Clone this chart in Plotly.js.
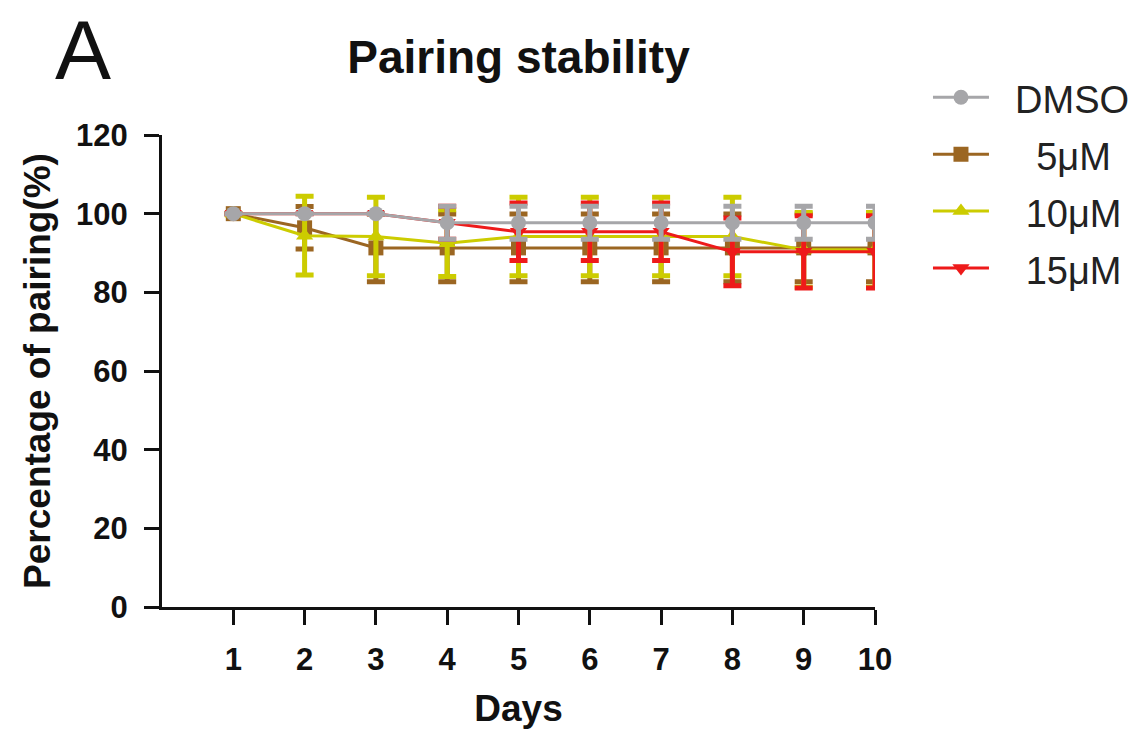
<!DOCTYPE html>
<html>
<head>
<meta charset="utf-8">
<script src="https://cdn.plot.ly/plotly-3.0.1.min.js"></script>
<style>html,body{margin:0;padding:0;background:#fff;}#chart{width:1139px;height:732px;}</style>
</head>
<body>
<div id="chart"></div>
<script>
const days = [1, 2, 3, 4, 5, 6, 7, 8, 9, 10];
const xTickLabels = ['1', '2', '3', '4', '5', '6', '7', '8', '9', '10'];
const yTickValues = [0, 20, 40, 60, 80, 100, 120];
const seriesNames = ['DMSO', '5μM', '10μM', '15μM'];

const dmso = [100, 100, 100, 97.7, 97.7, 97.7, 97.7, 97.7, 97.7, 97.7];
const dmsoErr = [0, 0, 0, 4.2, 4.2, 4.2, 4.2, 4.2, 4.2, 4.2];

const uM5 = [100, 96.4, 91.3, 91.3, 91.3, 91.3, 91.3, 91.3, 91.3, 91.3];
const uM5Err = [0, 5.4, 8.6, 8.6, 8.6, 8.6, 8.6, 8.6, 8.6, 8.6];

const uM10 = [100, 94.4, 94.2, 92.5, 94.2, 94.2, 94.2, 94.2, 90.8, 90.8];
const uM10Err = [0, 10, 10, 8.5, 10, 10, 10, 10, 9.5, 9.5];

const uM15 = [100, 100, 100, 97.7, 95.4, 95.4, 95.4, 90.3, 90.3, 90.3];
const uM15Err = [0, 0, 0, 4.2, 7.3, 7.3, 7.3, 8.6, 9.2, 9.2];

const FONT = 'Liberation Sans, Arial, Helvetica, sans-serif';
const NB = '\u00a0';

function legendLabel(name, pad) {
  return '<span style="font-size:38px">' + NB.repeat(pad) + name + '</span>';
}

function series(name, pad, y, err, color, symbol, rank) {
  return {
    type: 'scatter', mode: 'lines+markers', name: legendLabel(name, pad), x: days, y: y,
    legendrank: rank,
    line: {color: color, width: 3},
    marker: {color: color, symbol: symbol, size: 15, line: {width: 0}},
    error_y: {type: 'data', array: err, visible: true, color: color, thickness: 5, width: 9}
  };
}

const traces = [
  series(seriesNames[1], 4, uM5, uM5Err, '#9b6622', 'square', 2),
  series(seriesNames[2], 3, uM10, uM10Err, '#cccc00', 'triangle-up', 3),
  series(seriesNames[3], 3, uM15, uM15Err, '#ee1a1a', 'triangle-down', 4),
  series(seriesNames[0], 2, dmso, dmsoErr, '#a6a6a9', 'circle', 1)
];

const layout = {
  width: 1139, height: 732,
  margin: {l: 162, r: 264, t: 135, b: 125, autoexpand: false},
  paper_bgcolor: '#ffffff', plot_bgcolor: '#ffffff',
  font: {family: FONT, color: '#111111'},
  showlegend: true,
  title: {text: 'Pairing stability', x: 0.5, xref: 'paper', xanchor: 'center',
          y: 0.922, yref: 'container', yanchor: 'middle',
          font: {family: FONT, size: 46, weight: 700, color: '#111111'}},
  xaxis: {
    range: [0, 10], tickmode: 'array', tickvals: days, ticktext: xTickLabels,
    showgrid: false, zeroline: false, showline: true, linecolor: '#111', linewidth: 3,
    ticks: 'outside', ticklen: 15, tickwidth: 3, tickcolor: '#111', ticklabelstandoff: 8,
    tickfont: {family: FONT, size: 31, weight: 700, color: '#111'},
    title: {text: 'Days', standoff: 19, font: {family: FONT, size: 37, weight: 700, color: '#111'}},
    fixedrange: true
  },
  yaxis: {
    range: [0, 120], tickmode: 'array', tickvals: yTickValues,
    showgrid: false, zeroline: false, showline: true, linecolor: '#111', linewidth: 3,
    ticks: 'outside', ticklen: 15, tickwidth: 3, tickcolor: '#111', ticklabelstandoff: 10,
    tickfont: {family: FONT, size: 31, weight: 700, color: '#111'},
    title: {text: 'Percentage of pairing(%)', standoff: 15, font: {family: FONT, size: 37, weight: 700, color: '#111'}},
    fixedrange: true
  },
  legend: {
    x: 1.0743, xref: 'paper', xanchor: 'left', y: 1.151, yanchor: 'top',
    font: {family: FONT, size: 41.5, color: '#222'},
    itemwidth: 56, bgcolor: 'rgba(0,0,0,0)', borderwidth: 0
  },
  annotations: [{
    text: 'A', xref: 'paper', yref: 'paper', x: -0.153, y: 1.284,
    xanchor: 'left', yanchor: 'top', showarrow: false,
    font: {family: FONT, size: 84, color: '#111'}
  }]
};

Plotly.newPlot('chart', traces, layout, {displayModeBar: false, staticPlot: true});
</script>
</body>
</html>
